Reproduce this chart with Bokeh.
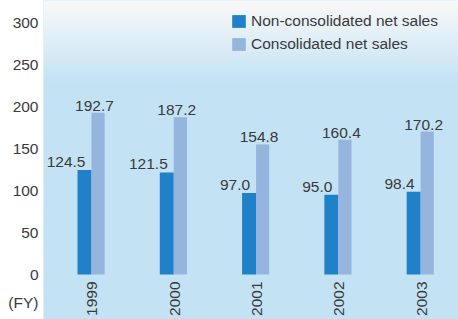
import numpy as np
from bokeh.plotting import figure
from bokeh.models import Range1d, FixedTicker, Legend, LegendItem, ColumnDataSource
from bokeh.transform import dodge
from bokeh.core.properties import value
from bokeh.embed import file_html
from bokeh.resources import INLINE

# ---- data ----
years = ["1999", "2000", "2001", "2002", "2003"]
non_consolidated = [124.5, 121.5, 97.0, 95.0, 98.4]
consolidated = [192.7, 187.2, 154.8, 160.4, 170.2]
y_ticks = [0, 50, 100, 150, 200, 250, 300]
fy_label = "(FY)"
series_names = ["Non-consolidated net sales", "Consolidated net sales"]

FONT = value("Liberation Sans")
TXT = "#3a3a3a"
DARK = "#2080c8"
LIGHT = "#95b4de"

W_PX, H_PX = 458, 319
idx = list(range(len(years)))
X0, X1 = -0.583, 4.46
Y0, Y1 = -53.6, 326.2

p = figure(width=W_PX, height=H_PX, output_backend="svg", toolbar_location=None,
           x_range=Range1d(X0, X1), y_range=Range1d(Y0, Y1),
           x_axis_location=None,
           min_border_left=43, min_border_right=0, min_border_top=0, min_border_bottom=0)
p.outline_line_color = None
p.grid.visible = False
p.background_fill_color = "#c6e5f5"
p.border_fill_color = "white"

# background gradient (decoration only): whitish at the top fading to light blue
H, W = H_PX, 8
rows = np.arange(H)  # 0 = bottom row
ywin = (1 - (rows + 0.5) / H) * H_PX
t = np.clip((ywin - 8) / 75.0, 0, 1)
top = np.array([245, 247, 248], dtype=float)
blue = np.array([195, 227, 245], dtype=float)
img = np.zeros((H, W, 4), dtype=np.uint8)
for k in range(3):
    img[:, :, k] = (top[k] * (1 - t) + blue[k] * t).astype(np.uint8)[:, None]
img[:, :, 3] = 255
img32 = np.ascontiguousarray(img).view(dtype=np.uint32).reshape(H, W)
p.image_rgba(image=[img32], x=X0, y=Y0, dw=X1 - X0, dh=Y1 - Y0)

src = ColumnDataSource(dict(x=idx, year=years, nc=non_consolidated, c=consolidated,
                            nc_lbl=[f"{v:.1f}" for v in non_consolidated],
                            c_lbl=[f"{v:.1f}" for v in consolidated],
                            zero=[0] * len(years)))

r1 = p.vbar(x=dodge("x", -0.085, range=p.x_range), top="nc", bottom=0, width=0.17,
            source=src, fill_color=DARK, line_color=None)
r2 = p.vbar(x=dodge("x", 0.08, range=p.x_range), top="c", bottom=0, width=0.16,
            source=src, fill_color=LIGHT, line_color=None)

p.text(x="x", y="nc", text="nc_lbl", source=src, x_offset=-6, y_offset=-3,
       text_align="right", text_baseline="bottom", text_font=FONT,
       text_font_size="15.5px", text_color=TXT)
p.text(x="x", y="c", text="c_lbl", source=src, x_offset=3, y_offset=-2,
       text_align="center", text_baseline="bottom", text_font=FONT,
       text_font_size="15.5px", text_color=TXT)
p.text(x="x", y="zero", text="year", source=src, angle=np.pi / 2, x_offset=1, y_offset=7,
       text_align="right", text_baseline="middle", text_font=FONT,
       text_font_size="15.5px", text_color=TXT)

fy_pos = -33
p.yaxis.ticker = FixedTicker(ticks=[fy_pos] + y_ticks)
p.yaxis.major_label_overrides = {fy_pos: fy_label}
p.yaxis.axis_line_color = None
p.yaxis.major_tick_line_color = None
p.yaxis.minor_tick_line_color = None
p.yaxis.major_tick_out = 0
p.yaxis.major_tick_in = 0
p.yaxis.major_label_standoff = 5
p.yaxis.major_label_text_font = "Liberation Sans"
p.yaxis.major_label_text_font_size = "15.5px"
p.yaxis.major_label_text_color = TXT

legend = Legend(items=[LegendItem(label=series_names[0], renderers=[r1]),
                       LegendItem(label=series_names[1], renderers=[r2])],
                location=(187, 266), glyph_width=17, glyph_height=16, label_height=16,
                spacing=5, padding=0, margin=0, background_fill_alpha=0,
                border_line_color=None, label_text_font_size="15.5px",
                label_text_font="Liberation Sans", label_standoff=4,
                label_text_color=TXT)
p.add_layout(legend)

open("out.html", "w").write(file_html(p, INLINE))
